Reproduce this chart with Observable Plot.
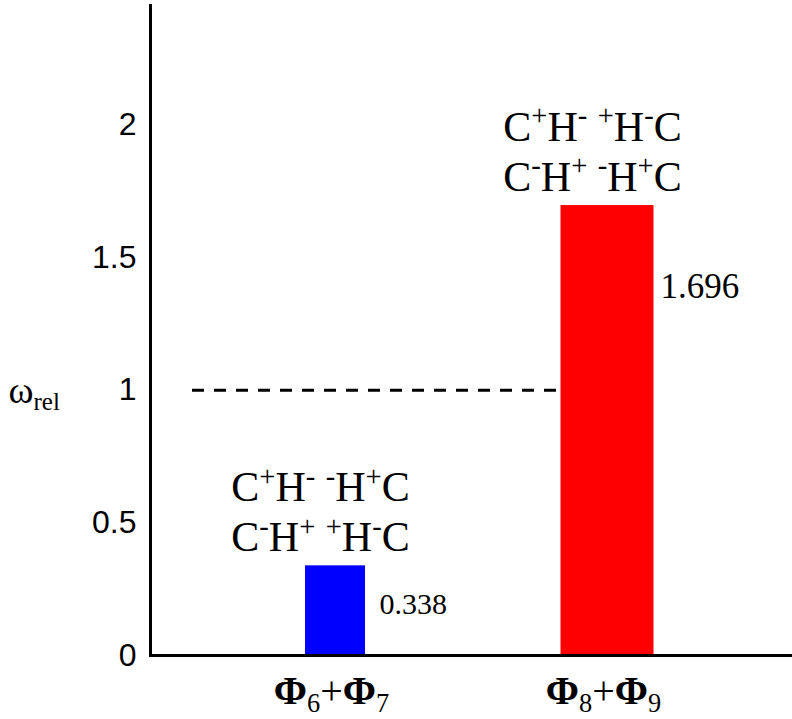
<!DOCTYPE html>
<html>
<head>
<meta charset="utf-8">
<script src="https://cdn.jsdelivr.net/npm/d3@7"></script>
<script src="https://cdn.jsdelivr.net/npm/@observablehq/plot@0.6"></script>
<style>
  html, body { margin: 0; padding: 0; background: #fff; }
  #chart svg { display: block; }
</style>
</head>
<body>
<div id="chart"></div>
<script>
// ---- data ----
const categories = ["*Φ_6+*Φ_7", "*Φ_8+*Φ_9"];
const values = [0.338, 1.696];
const valueLabels = ["0.338", "1.696"];
const configLine1 = ["C^+H^- ^-H^+C", "C^+H^- ^+H^-C"];
const configLine2 = ["C^-H^+ ^+H^-C", "C^-H^+ ^-H^+C"];
const colors = ["#0000ff", "#ff0000"];
const yTicks = [0, 0.5, 1, 1.5, 2];
const referenceValue = 1;
const yLabel = "ω_{rel}";

const table = categories.map((c, i) => ({
  cat: c, value: values[i], label: valueLabels[i],
  line1: configLine1[i], line2: configLine2[i], color: colors[i]
}));

const serif = "'Liberation Serif', 'Times New Roman', serif";
const sans = "'Liberation Sans', Arial, Helvetica, sans-serif";

const chart = Plot.plot({
  width: 792,
  height: 719,
  marginLeft: 150,
  marginRight: 0,
  marginTop: 5,
  marginBottom: 64,
  x: {domain: categories, paddingInner: 0.5, paddingOuter: 0.43, align: 0.5},
  y: {domain: [0, 2.45]},
  marks: [
    Plot.ruleY([referenceValue], {stroke: "black", strokeWidth: 3, strokeDasharray: "12,10", insetLeft: 42, insetRight: 230}),
    Plot.barY([table[0]], {x: "cat", y: "value", fill: "color", insetLeft: 38, insetRight: 38}),
    Plot.barY([table[1]], {x: "cat", y: "value", fill: "color", insetLeft: 21.5, insetRight: 21.5}),
    Plot.text(table, {x: "cat", y: "value", text: "line1", dx: -15, dy: -65, lineAnchor: "bottom", fontSize: 42, fontFamily: serif, fill: "black"}),
    Plot.text(table, {x: "cat", y: "value", text: "line2", dx: -15, dy: -15, lineAnchor: "bottom", fontSize: 42, fontFamily: serif, fill: "black"}),
    Plot.text([table[0]], {x: "cat", y: "value", text: "label", dx: 44, dy: 48, textAnchor: "start", lineAnchor: "bottom", fontSize: 30, fontFamily: serif, fill: "black"}),
    Plot.text([table[1]], {x: "cat", y: "value", text: "label", dx: 53, dy: 92, textAnchor: "start", lineAnchor: "bottom", fontSize: 35, fontFamily: serif, fill: "black"}),
    Plot.axisY({ticks: yTicks, tickFormat: d => String(d), tickSize: 0, tickPadding: 14, label: null, fontSize: 32, fontFamily: sans}),
    Plot.axisX({tickSize: 0, tickPadding: 20, label: null, fontSize: 40, fontFamily: serif, dx: -4}),
    Plot.text([yLabel], {frameAnchor: "top-left", text: d => d, dx: -142, dy: 397, textAnchor: "start", lineAnchor: "bottom", fontSize: 38, fontFamily: serif, fill: "black"}),
    Plot.frame({anchor: "left", stroke: "black", strokeWidth: 3}),
    Plot.ruleY([0], {stroke: "black", strokeWidth: 3})
  ]
});

document.getElementById("chart").appendChild(chart);

// ---- rich text: ^x superscript, _x subscript, *x bold ----
function parseRich(s) {
  const segs = [];
  let i = 0;
  while (i < s.length) {
    const c = s[i];
    if ((c === "^" || c === "_" || c === "*") && i + 1 < s.length) {
      let content;
      if (s[i + 1] === "{") {
        const j = s.indexOf("}", i + 2);
        content = s.slice(i + 2, j);
        i = j + 1;
      } else {
        content = s[i + 1];
        i += 2;
      }
      segs.push({t: content, k: c});
    } else {
      const last = segs[segs.length - 1];
      if (last && last.k === "") last.t += c; else segs.push({t: c, k: ""});
      i++;
    }
  }
  return segs;
}

d3.select(chart).selectAll("text").each(function () {
  const txt = this.textContent;
  if (!/[\^_*]/.test(txt)) return;
  const holder = this.closest("[font-size]");
  const base = holder ? parseFloat(holder.getAttribute("font-size")) : 16;
  const segs = parseRich(txt);
  this.textContent = "";
  let cur = 0;
  segs.forEach((sg) => {
    const ts = document.createElementNS("http://www.w3.org/2000/svg", "tspan");
    let shift = 0;
    if (sg.k === "^") { shift = -0.36 * base; ts.setAttribute("font-size", (0.68 * base) + "px"); }
    else if (sg.k === "_") { shift = 0.2 * base; ts.setAttribute("font-size", (0.66 * base) + "px"); }
    else if (sg.k === "*") { ts.setAttribute("font-weight", "bold"); }
    const dy = shift - cur;
    if (dy !== 0) ts.setAttribute("dy", dy + "px");
    cur = shift;
    ts.textContent = sg.t;
    this.appendChild(ts);
  });
});
</script>
</body>
</html>
